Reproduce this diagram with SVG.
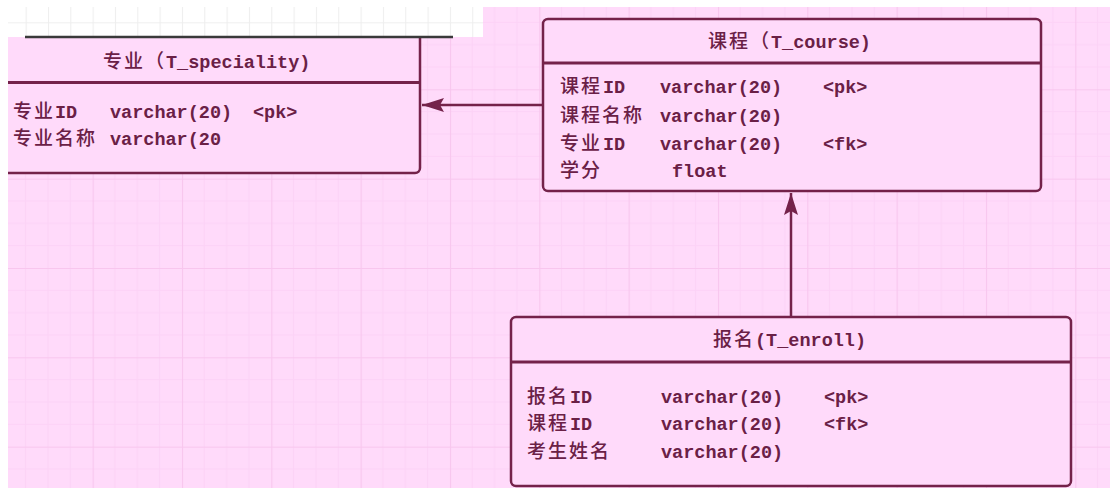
<svg xmlns="http://www.w3.org/2000/svg" width="1110" height="488" viewBox="0 0 1110 488">
<style>
.box{fill:#ffdafa;stroke:#74224a;stroke-width:2.5}
.sep{stroke:#74224a;stroke-width:3}
.m{font-family:"Liberation Mono","Noto Sans CJK SC",monospace;font-size:18.5px;font-weight:bold;fill:#6a2046}
.c{font-family:"Noto Sans CJK SC","Liberation Mono",sans-serif;font-size:19px;font-weight:500;letter-spacing:2px;fill:#6a2046}
.edge{stroke:#74224a;stroke-width:2.5;fill:none}
</style>
<defs>
<pattern id="grid" x="3.3" y="0" width="89.33" height="89.33" patternUnits="userSpaceOnUse">
<rect width="89.33" height="89.33" fill="#ffdafa"/>
<path d="M22.33 0V89.33M44.67 0V89.33M67 0V89.33M0 22.33H89.33M0 44.67H89.33M0 67H89.33" stroke="#fcd2f6" stroke-width="1"/>
<path d="M0.5 0V89.33M0 0.5H89.33" stroke="#f8c6ee" stroke-width="1.2"/>
</pattern>
<pattern id="wgrid" x="3.3" y="0" width="22.33" height="22.33" patternUnits="userSpaceOnUse">
<rect width="22.33" height="22.33" fill="#ffffff"/>
<path d="M0.5 0V22.33M0 0.5H22.33" stroke="#eeeeee" stroke-width="1"/>
</pattern>
<marker id="arr" markerUnits="userSpaceOnUse" markerWidth="24" markerHeight="16" refX="22" refY="7" orient="auto">
<path d="M0,0 L22,7 L0,14 L4,7 Z" fill="#74224a"/>
</marker>
</defs>
<rect x="0" y="0" width="1110" height="488" fill="#ffffff"/>
<rect x="8" y="7" width="1102" height="481" fill="url(#grid)"/>

<g id="node-speciality">
<rect class="box" x="-6" y="28" width="426" height="145" rx="5"/>
<line class="sep" x1="-6" y1="82.5" x2="420" y2="82.5"/>
<text class="m" x="103" y="68"><tspan class="c">专业（</tspan>T_speciality)</text>
<text class="c" x="13" y="118">专业</text><text class="m" x="55" y="118">ID</text>
<text class="m" x="110" y="118">varchar(20)</text><text class="m" x="253" y="118">&lt;pk&gt;</text>
<text class="c" x="13" y="145">专业名称</text>
<text class="m" x="110" y="145">varchar(20</text>
</g>

<g id="overlay">
<rect x="8" y="7" width="475" height="30" fill="url(#wgrid)"/>
<line x1="25" y1="37" x2="453" y2="37" stroke="#3a3a3a" stroke-width="2.5"/>
<rect x="0" y="0" width="8" height="488" fill="#ffffff"/>
<rect x="0" y="0" width="1110" height="7" fill="#ffffff"/>
</g>

<g id="node-course">
<rect class="box" x="543" y="19" width="498" height="172" rx="5"/>
<line class="sep" x1="543" y1="63" x2="1041" y2="63"/>
<text class="m" x="708" y="48"><tspan class="c">课程（</tspan>T_course)</text>
<text class="c" x="560" y="93">课程</text><text class="m" x="603" y="93">ID</text>
<text class="m" x="660" y="93">varchar(20)</text><text class="m" x="823" y="93">&lt;pk&gt;</text>
<text class="c" x="560" y="122">课程名称</text>
<text class="m" x="660" y="122">varchar(20)</text>
<text class="c" x="560" y="150">专业</text><text class="m" x="603" y="150">ID</text>
<text class="m" x="660" y="150">varchar(20)</text><text class="m" x="823" y="150">&lt;fk&gt;</text>
<text class="c" x="560" y="177">学分</text>
<text class="m" x="672" y="177">float</text>
</g>

<g id="node-enroll">
<rect class="box" x="511" y="317" width="560" height="169" rx="5"/>
<line class="sep" x1="511" y1="362" x2="1071" y2="362"/>
<text class="m" x="713" y="346"><tspan class="c">报名</tspan>(T_enroll)</text>
<text class="c" x="527" y="403">报名</text><text class="m" x="570" y="403">ID</text>
<text class="m" x="661" y="403">varchar(20)</text><text class="m" x="824" y="403">&lt;pk&gt;</text>
<text class="c" x="527" y="430">课程</text><text class="m" x="570" y="430">ID</text>
<text class="m" x="661" y="430">varchar(20)</text><text class="m" x="824" y="430">&lt;fk&gt;</text>
<text class="c" x="527" y="458">考生姓名</text>
<text class="m" x="661" y="458">varchar(20)</text>
</g>

<g id="connectors">
<path class="edge" d="M543,105 L422,105" marker-end="url(#arr)"/>
<path class="edge" d="M791,317 L791,193" marker-end="url(#arr)"/>
</g>
</svg>
